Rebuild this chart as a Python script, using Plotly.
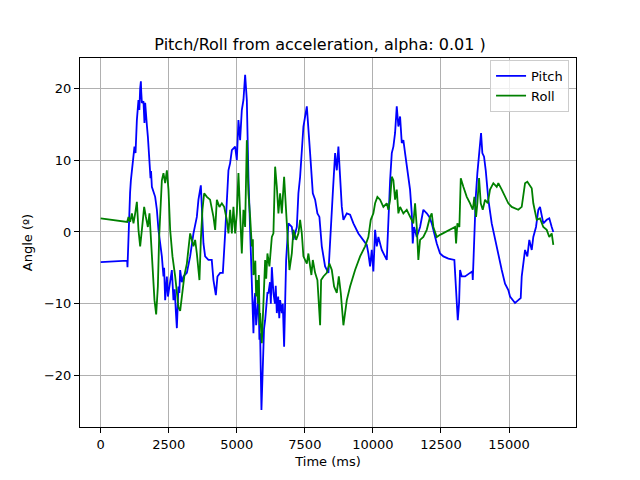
import plotly.graph_objects as go

pitch_t = [0, 973, 984, 1021, 1050, 1080, 1109, 1241, 1280, 1300, 1329, 1388, 1420, 1450, 1476, 1490,
           1513, 1572, 1590, 1608, 1634, 1660, 1696, 1733, 1792, 1830, 1850,
           1880, 2001, 2064, 2122, 2247, 2306, 2330, 2368, 2400, 2431, 2470, 2515, 2560, 2614, 2673,
           2720, 2760, 2798, 2857, 2890, 2919, 2980, 3040,
           3165, 3286, 3408, 3532, 3591, 3679, 3716, 3775, 3837, 3958, 4080, 4142, 4230, 4289, 4388,
           4487, 4572, 4693, 4755, 4818, 4939, 5001, 5060, 5122, 5184, 5244, 5306, 5368, 5427, 5490,
           5552, 5611, 5640, 5673, 5710, 5758, 5800, 5830, 5857, 5905, 5956, 6000, 6041, 6080, 6125,
           6162, 6220, 6250, 6287, 6345, 6400, 6430, 6470, 6520, 6560, 6591, 6654, 6690,
           6738, 6812, 6896, 7021, 7080, 7205, 7263, 7326, 7388, 7447, 7572, 7631, 7693, 7792, 7877,
           7961, 8034, 8122, 8243, 8365, 8427, 8526, 8611, 8673, 8732, 8794, 8857, 8916, 9041, 9161,
           9283, 9466, 9650, 9775, 9833, 9896, 9958, 10017, 10080, 10142, 10201, 10325, 10509, 10568,
           10631, 10693, 10752, 10814, 10876, 10935, 10998, 11060, 11119, 11181, 11243, 11364, 11427,
           11463, 11512, 11611, 11732, 11853, 11978, 12073, 12161, 12220, 12345, 12466, 12588, 12772,
           12992, 13055, 13117, 13165, 13201, 13263, 13385, 13568, 13653, 13668, 13716, 13778, 13837,
           13899, 13972, 14020, 14082, 14144, 14240, 14364, 14486, 14607, 14732, 14853, 14974, 15037,
           15158, 15220, 15341, 15429, 15466, 15525, 15588, 15672, 15745, 15834, 15892, 15991, 16076,
           16138, 16259, 16384, 16479, 16568, 16627]
pitch_v = [-4.2, -4.0, -4.9, 0.3, 3.0, 5.5, 7.2, 11.9, 11.0, 14.0, 15.6, 18.4, 17.0, 20.0, 21.0, 19.5,
           18.0, 18.2, 16.5, 15.2, 18.0, 16.0, 14.9, 13.3, 9.6, 7.5, 8.5,
           6.3, 4.9, 3.1, 0.3, -3.4, -6.2, -5.0, -9.5, -8.0, -6.2, -9.0, -7.6, -6.5, -5.3, -9.5,
           -8.0, -11.0, -13.4, -7.6, -8.5, -5.3, -7.0, -6.2,
           -5.7, -3.4, -0.2, 2.1, 4.5, 6.5, 4.0, -1.6, -3.4, -3.9, -3.9, -6.7, -8.8, -6.2, -5.7,
           -5.7, -0.2, 8.6, 9.6, 11.4, 11.9, 10.0, 15.6, 12.8, 17.0, 18.4, 21.9, 18.4, 7.7, 0.7,
           -6.2, -14.1, -10.0, -8.5, -13.0, -11.3, -9.0, -15.0, -14.1, -24.8, -16.4, -13.5, -12.3, -10.0, -8.5,
           -8.5, -7.0, -10.0, -4.9, -8.5, -10.0, -7.5, -11.3, -9.0, -12.0, -9.5, -11.3, -10.0,
           -16.0, -3.9, 1.2, 0.7, -1.1, 0.7, 5.4, 7.7, 11.0, 14.7, 17.5, 14.7, 11.0, 5.4, 4.5,
           2.6, 2.1, -2.0, -4.8, -5.7, -2.0, 5.4, 11.0, 8.6, 11.9, 8.2, 3.5, 1.7, 2.6, 2.4,
           1.2, -0.2, -1.1, -1.8, -3.0, -4.8, -2.5, -5.5, 0.3, -2.0, -0.7, -2.5, -3.9, 2.6,
           7.2, 11.0, 11.9, 13.8, 17.5, 14.7, 16.1, 12.4, 12.8, 11.0, 9.1, 5.9, 2.6,
           -1.6, 0.7, -0.7, 0.7, 3.1, 2.6, 2.1, 1.2, 0.3, -1.6, -3.0, -3.4, -3.7,
           -3.9, -8.1, -12.3, -9.9, -5.3, -6.2, -6.2, -5.7, -5.5, -6.7, -0.7, 4.9, 8.2,
           10.5, 13.8, 11.0, 10.5, 8.6, 4.5, 1.2, -1.1, -3.0, -5.3, -7.2, -8.1, -9.0,
           -9.5, -9.9, -9.5, -9.2, -6.2, -4.4, -2.5, -3.4, -1.1, -2.5, -0.7, 0.7, 3.1,
           3.5, 1.2, 1.7, 1.9, 0.7, 0.0]

roll_t = [0, 973, 1021, 1083, 1146, 1204, 1267, 1329, 1388, 1450, 1513, 1597, 1660, 1733, 1792, 1854,
          1917, 1976, 2038, 2100, 2148, 2196, 2247, 2306, 2368, 2431, 2490, 2552, 2637, 2736, 2798,
          2857, 2919, 3004, 3077, 3165, 3286, 3408, 3470, 3532, 3628, 3679, 3738, 3801, 3900, 4018,
          4142, 4205, 4267, 4362, 4450, 4535, 4634, 4693, 4755, 4818, 4876, 4939, 5001, 5060, 5122,
          5184, 5244, 5306, 5368, 5427, 5490, 5552, 5590, 5610, 5637, 5680, 5710, 5736, 5780, 5810,
          5840, 5857, 5919, 5950, 5978, 6041, 6080, 6125, 6198,
          6287, 6345, 6408, 6470, 6529, 6591, 6654, 6738, 6801, 6859, 6933, 7021, 7080, 7179, 7263,
          7326, 7388, 7447, 7572, 7630, 7693, 7740, 7792, 7877, 7961, 8060, 8097, 8181, 8306, 8401,
          8490, 8574,
          8673, 8747, 8820, 8916, 9041, 9161, 9345, 9529, 9712, 9833, 9921, 10017, 10080, 10164,
          10263, 10384, 10509, 10568, 10631, 10693, 10752, 10814, 10876, 10935, 10998, 11060, 11119,
          11243, 11364, 11485, 11548, 11611, 11669, 11732, 11853, 11978, 12099, 12161, 12220, 12345,
          12466, 12650, 12834, 13018, 13055, 13102, 13176, 13227, 13322, 13447, 13568, 13668, 13727,
          13789, 13837, 13899, 13961, 14035, 14119, 14218, 14302, 14424, 14548, 14607, 14732, 14853,
          14974, 15099, 15220, 15341, 15466, 15525, 15588, 15672, 15745, 15834, 15892, 15955, 16017,
          16138, 16259, 16384, 16479, 16568, 16627]
roll_v = [1.9, 1.4, 2.1, 1.4, 2.6, 1.2, 2.6, 4.2, 0.3, -2.0, 0.3, 3.5, 2.1, 0.7, 2.6, -1.6,
          -6.2, -9.5, -11.5, -7.6, -0.7, 4.0, 7.2, 8.2, 6.8, 8.6, 5.9, 0.3, -3.4, -6.2, -8.0,
          -10.5, -11.0, -8.5, -6.0, -4.4, -0.2, -2.0, -1.1, -3.0, -6.7, -1.1, 3.1, 5.4, 4.9, 4.5,
          2.1, 0.3, 4.5, 3.5, 4.0, 3.5, 1.7, -0.2, 3.1, -0.2, 3.5, -0.2, 2.6, 8.2, 3.1,
          -3.0, 3.1, 0.7, 12.8, 5.4, 2.1, -2.0, -1.0, -6.0, -5.7, -4.0, -9.0, -6.7, -10.0, -6.0,
          -13.0, -11.3, -15.5, -12.0, -8.5, -3.9, -6.5, -3.0, -4.8,
          -0.7, -0.2, 9.1, 6.3, 2.6, 5.4, 2.6, 7.7, 2.6, -0.2, -5.3, -3.0, 0.3, -1.1, -0.2,
          1.7, -0.2, -3.4, -4.4, -3.0, -4.8, -6.0, -3.9, -5.7, -6.7, -13.0, -6.7, -6.2, -5.7, -4.4,
          -5.3, -7.6,
          -8.5, -6.2, -8.5, -13.0, -9.5, -7.6, -5.3, -3.4, -2.0, -0.7, 1.7, 2.6, 4.0, 4.9,
          4.5, 3.5, 4.0, 3.1, 4.5, 7.7, 7.2, 4.5, 5.9, 2.6, 3.5, 3.1, 2.6,
          3.1, 2.1, 1.2, 4.0, 0.7, -3.9, -1.1, -0.7, 0.3, 2.1, 2.6, 0.7, -0.7,
          -0.4, 0.0, 0.3, 0.7, -1.6, 1.2, 0.7, 7.5, 6.3, 4.9, 4.0, 3.1, 4.9,
          2.1, 4.0, 7.5, 4.0, 3.1, 4.5, 4.0, 5.9, 6.8, 6.3, 6.8, 5.9, 4.9,
          4.0, 3.5, 3.3, 3.1, 3.5, 4.9, 6.8, 7.0, 6.5, 6.1, 4.0, 2.6, 1.7,
          1.9, 0.7, 0.3, -0.7, -0.2, -1.8]

x_ticks = [0, 2500, 5000, 7500, 10000, 12500, 15000]
y_ticks = [-20, -10, 0, 10, 20]

font = "DejaVu Sans, Arial, sans-serif"

fig = go.Figure()
fig.add_trace(go.Scatter(x=pitch_t, y=pitch_v, mode="lines", name="Pitch",
                         line=dict(color="blue", width=1.8)))
fig.add_trace(go.Scatter(x=roll_t, y=roll_v, mode="lines", name="Roll",
                         line=dict(color="green", width=1.8)))

axis_common = dict(showline=True, linecolor="black", linewidth=1, mirror=True,
                   ticks="outside", ticklen=5, tickcolor="black", tickwidth=1,
                   showgrid=True, gridcolor="#b0b0b0", gridwidth=1, zeroline=False,
                   tickfont=dict(family=font, size=13, color="black"))

fig.update_layout(
    width=640, height=480,
    paper_bgcolor="white", plot_bgcolor="white",
    margin=dict(l=80, r=64, t=58, b=53),
    font=dict(family=font, color="black"),
    title=dict(text="Pitch/Roll from acceleration, alpha: 0.01 )", x=0.5, xanchor="center",
               y=1 - 44 / 480, yanchor="middle", font=dict(family=font, size=16, color="black")),
    xaxis=dict(range=[-760, 17460], tickvals=x_ticks, ticktext=[str(v) for v in x_ticks],
               title=dict(text="Time (ms)", font=dict(family=font, size=13, color="black"), standoff=6),
               **axis_common),
    yaxis=dict(range=[-27.18, 24.25], tickvals=y_ticks,
               title=dict(text="Angle (º)", font=dict(family=font, size=13, color="black"), standoff=8),
               **axis_common),
    legend=dict(x=0.986, y=0.995, xanchor="right", yanchor="top",
                bgcolor="rgba(255,255,255,0.8)", bordercolor="#cccccc", borderwidth=1,
                font=dict(family=font, size=13, color="black")),
    showlegend=True,
)

fig.write_html("out.html")
